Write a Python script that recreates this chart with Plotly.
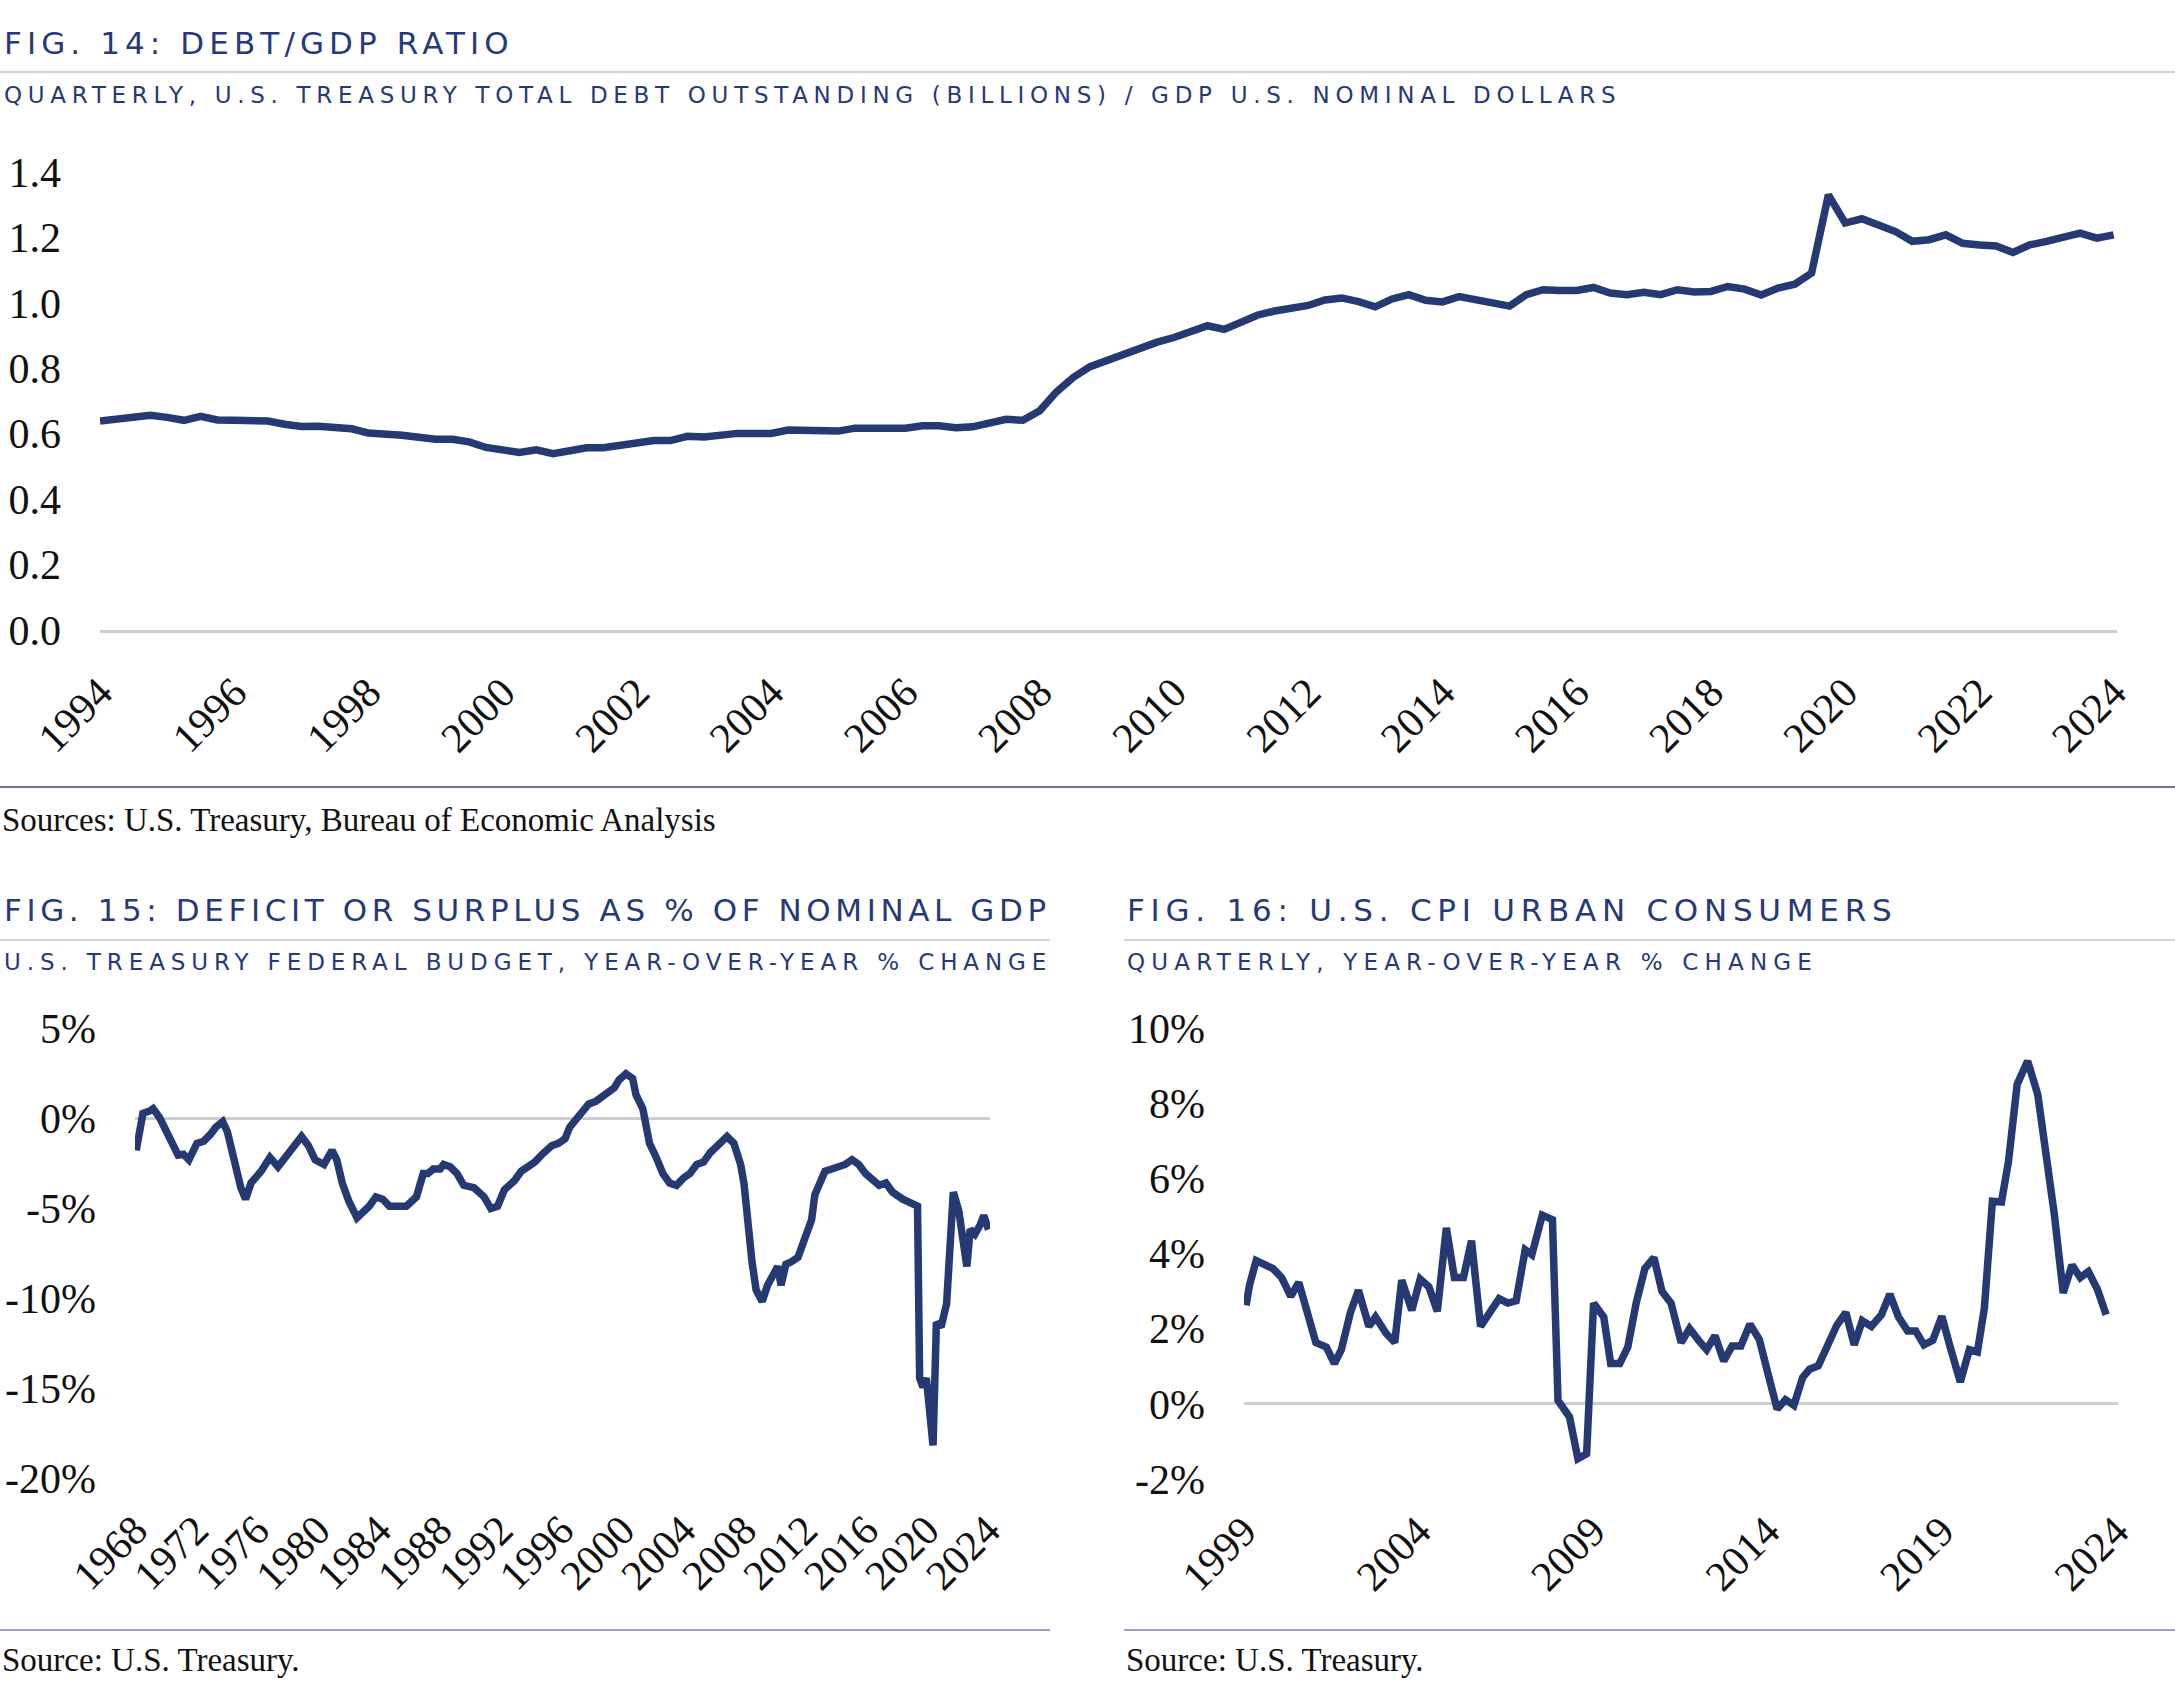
import plotly.graph_objects as go

W, H = 2175, 1685

# ---------------- DATA ----------------
# Fig 14: Debt/GDP ratio, quarterly 1994Q1 .. 2024Q1
debt_gdp = [
    0.639, 0.645, 0.646, 0.656, 0.650, 0.641, 0.653, 0.642,
    0.641, 0.641, 0.639, 0.629, 0.622, 0.623, 0.621, 0.615,
    0.602, 0.601, 0.595, 0.589, 0.583, 0.583, 0.575, 0.558,
    0.552, 0.543, 0.551, 0.539, 0.548, 0.557, 0.557, 0.563,
    0.570, 0.579, 0.579, 0.592, 0.590, 0.596, 0.601, 0.601,
    0.601, 0.611, 0.611, 0.611, 0.608, 0.617, 0.619, 0.617,
    0.617, 0.624, 0.624, 0.618, 0.621, 0.630, 0.644, 0.641,
    0.670, 0.728, 0.772, 0.805, 0.825, 0.845, 0.866, 0.880,
    0.894, 0.912, 0.930, 0.919, 0.942, 0.963, 0.975, 0.985,
    0.992, 1.009, 1.015, 1.004, 0.988, 1.012, 1.025, 1.008,
    1.003, 1.019, 1.010, 0.997, 0.990, 1.025, 1.040, 1.038,
    1.038, 1.047, 1.030, 1.025, 1.032, 1.025, 1.040, 1.033,
    1.035, 1.050, 1.042, 1.024, 1.045, 1.057, 1.091, 1.330,
    1.244, 1.257, 1.239, 1.218, 1.188, 1.193, 1.208, 1.182,
    1.177, 1.174, 1.154, 1.177, 1.188, 1.203, 1.213, 1.198,
    1.208,
]
debt_years = [1994 + i * 0.25 for i in range(len(debt_gdp))]
debt_ytick_vals = [0.0, 0.2, 0.4, 0.6, 0.8, 1.0, 1.2, 1.4]
debt_ytick_text = ["0.0", "0.2", "0.4", "0.6", "0.8", "1.0", "1.2", "1.4"]
debt_xtick_years = list(range(1994, 2025, 2))

# Fig 15: Deficit or surplus as % of nominal GDP
deficit_years = [
    1968.08, 1968.52, 1968.97, 1969.19, 1969.63, 1970.08, 1970.52, 1970.83,
    1971.18, 1971.54, 1972.07, 1972.51, 1972.96, 1973.31, 1973.76, 1974.07,
    1974.51, 1974.95, 1975.26, 1975.62, 1976.28, 1976.86, 1977.39, 1977.84,
    1978.50, 1978.94, 1979.39, 1979.83, 1980.41, 1980.94, 1981.25, 1981.61,
    1982.05, 1982.58, 1983.38, 1983.82, 1984.27, 1984.71, 1985.82, 1986.48,
    1986.93, 1987.24, 1987.59, 1988.04, 1988.26, 1988.70, 1989.15, 1989.59,
    1990.26, 1990.61, 1990.92, 1991.37, 1991.81, 1992.26, 1992.92, 1993.36,
    1993.80, 1994.25, 1994.69, 1995.36, 1995.80, 1996.24, 1996.55, 1996.91,
    1997.44, 1997.80, 1998.24, 1998.68, 1999.13, 1999.48, 1999.79, 2000.24,
    2000.68, 2000.90, 2001.35, 2001.57, 2001.79, 2002.23, 2002.67, 2003.11,
    2003.56, 2004.00, 2004.44, 2004.89, 2005.33, 2005.77, 2006.22, 2006.66,
    2006.88, 2007.33, 2007.77, 2007.99, 2008.21, 2008.52, 2008.79, 2009.19,
    2009.54, 2009.98, 2010.21, 2010.43, 2010.74, 2011.10, 2011.54, 2011.98,
    2012.43, 2012.65, 2012.96, 2013.31, 2013.76, 2014.20, 2014.64, 2015.09,
    2015.53, 2015.98, 2016.42, 2016.87, 2017.31, 2017.75, 2018.42, 2018.86,
    2019.39, 2019.53, 2019.75, 2019.97, 2020.41, 2020.63, 2020.94, 2021.30,
    2021.74, 2022.10, 2022.41, 2022.63, 2022.85, 2023.16, 2023.51, 2023.74,
    2024.05,
]
deficit_pct = [
    -1.80, 0.26, 0.39, 0.52, 0.00, -0.77, -1.41, -2.06,
    -2.01, -2.32, -1.41, -1.29, -0.90, -0.51, -0.20, -0.77,
    -2.32, -3.87, -4.51, -3.61, -2.96, -2.19, -2.71, -2.19,
    -1.54, -1.03, -1.54, -2.32, -2.58, -1.80, -2.32, -3.61,
    -4.64, -5.54, -4.90, -4.38, -4.51, -4.90, -4.90, -4.38,
    -3.09, -3.09, -2.83, -2.83, -2.58, -2.71, -3.09, -3.74,
    -3.87, -4.12, -4.38, -5.03, -4.90, -3.99, -3.48, -2.96,
    -2.71, -2.45, -2.06, -1.54, -1.41, -1.16, -0.51, -0.13,
    0.39, 0.78, 0.91, 1.17, 1.42, 1.68, 2.12, 2.46,
    2.20, 1.29, 0.52, -0.51, -1.41, -2.19, -3.09, -3.61,
    -3.74, -3.35, -3.09, -2.58, -2.45, -1.93, -1.54, -1.29,
    -1.03, -1.41, -2.58, -3.61, -5.67, -7.99, -9.54, -10.19,
    -9.29, -8.51, -8.25, -9.29, -8.13, -7.99, -7.74, -6.71,
    -5.67, -4.26, -3.61, -2.96, -2.83, -2.71, -2.58, -2.32,
    -2.58, -3.09, -3.35, -3.74, -3.61, -4.12, -4.51, -4.64,
    -4.90, -14.45, -14.96, -14.45, -18.19, -11.35, -11.61, -10.32,
    -4.12, -5.16, -6.71, -8.25, -6.19, -6.45, -5.93, -5.42,
    -6.20,
]
deficit_ytick_vals = [-20, -15, -10, -5, 0, 5]
deficit_ytick_text = ["-20%", "-15%", "-10%", "-5%", "0%", "5%"]
deficit_xtick_years = list(range(1968, 2025, 4))

# Fig 16: U.S. CPI urban consumers, y/y %
cpi_years = [
    1999.06, 1999.16, 1999.35, 1999.59, 1999.83, 2000.08, 2000.34, 2000.57,
    2000.77, 2001.06, 2001.36, 2001.59, 2001.79, 2002.05, 2002.28, 2002.58,
    2002.77, 2003.07, 2003.32, 2003.52, 2003.81, 2004.05, 2004.30, 2004.54,
    2004.80, 2005.03, 2005.29, 2005.52, 2005.78, 2006.07, 2006.31, 2006.56,
    2006.80, 2007.06, 2007.25, 2007.55, 2007.84, 2008.00, 2008.33, 2008.57,
    2008.82, 2009.02, 2009.31, 2009.51, 2009.77, 2010.00, 2010.24, 2010.49,
    2010.75, 2010.98, 2011.24, 2011.53, 2011.77, 2012.03, 2012.26, 2012.50,
    2012.75, 2012.99, 2013.24, 2013.50, 2013.77, 2014.03, 2014.28, 2014.52,
    2014.76, 2015.01, 2015.21, 2015.46, 2015.74, 2015.99, 2016.25, 2016.49,
    2016.72, 2016.98, 2017.27, 2017.51, 2017.76, 2018.02, 2018.25, 2018.49,
    2018.74, 2019.00, 2019.24, 2019.53, 2019.79, 2020.02, 2020.22, 2020.45,
    2020.71, 2020.91, 2021.16, 2021.46, 2021.75, 2021.99, 2022.22, 2022.48,
    2022.73, 2022.97, 2023.20, 2023.46, 2023.71,
]
cpi_pct = [
    2.62, 3.17, 3.81, 3.73, 3.60, 3.36, 2.86, 3.23,
    2.62, 1.63, 1.51, 1.07, 1.44, 2.43, 3.02, 2.06,
    2.31, 1.88, 1.63, 3.29, 2.49, 3.32, 3.11, 2.46,
    4.68, 3.36, 3.36, 4.34, 2.06, 2.49, 2.80, 2.68,
    2.74, 4.10, 3.97, 5.02, 4.90, 0.09, -0.35, -1.46,
    -1.33, 2.68, 2.31, 1.07, 1.07, 1.51, 2.68, 3.60,
    3.89, 2.99, 2.68, 1.63, 2.00, 1.69, 1.44, 1.81,
    1.14, 1.54, 1.54, 2.12, 1.71, 0.76, -0.14, 0.11,
    -0.04, 0.70, 0.92, 1.01, 1.57, 2.09, 2.43, 1.57,
    2.21, 2.06, 2.37, 2.92, 2.31, 1.94, 1.94, 1.57,
    1.69, 2.33, 1.51, 0.58, 1.44, 1.38, 2.55, 5.39,
    5.37, 6.44, 8.50, 9.12, 8.23, 6.75, 5.08, 2.95,
    3.69, 3.36, 3.52, 3.05, 2.37,
]
cpi_ytick_vals = [-2, 0, 2, 4, 6, 8, 10]
cpi_ytick_text = ["-2%", "0%", "2%", "4%", "6%", "8%", "10%"]
cpi_xtick_years = list(range(1999, 2025, 5))

# ---------------- STYLE ----------------
NAVY = "#26397a"
LINE = "#253972"
GRAY = "#cdcdcd"
SERIF = "Liberation Serif, Times New Roman, serif"
HEAD = "DejaVu Sans, Verdana, sans-serif"
TICK_SIZE = 42
LINE_W = 7.5


def px_x(p):
    return p / W


def px_y(p):
    return 1 - p / H


fig = go.Figure()
fig.add_trace(go.Scatter(x=debt_years, y=debt_gdp, mode="lines",
                         line=dict(color=LINE, width=LINE_W), xaxis="x", yaxis="y"))
fig.add_trace(go.Scatter(x=deficit_years, y=deficit_pct, mode="lines",
                         line=dict(color=LINE, width=LINE_W), xaxis="x2", yaxis="y2"))
fig.add_trace(go.Scatter(x=cpi_years, y=cpi_pct, mode="lines",
                         line=dict(color=LINE, width=LINE_W), xaxis="x3", yaxis="y3"))

tickfont = dict(family=SERIF, size=TICK_SIZE, color="#111111")

xcommon = dict(showgrid=False, zeroline=False, ticks="", tickangle=-45,
               tickfont=tickfont, ticklabelstandoff=18, automargin=False)
ycommon = dict(showgrid=False, ticks="", tickfont=tickfont, ticklabelstandoff=38,
               automargin=False)

fig.update_layout(
    width=W, height=H,
    autosize=False,
    margin=dict(l=0, r=0, t=0, b=0, pad=0, autoexpand=False),
    paper_bgcolor="white", plot_bgcolor="white",
    showlegend=False,
    xaxis=dict(domain=[px_x(100), px_x(2117)], range=[1994, 2024.05],
               tickvals=debt_xtick_years, ticktext=[str(v) for v in debt_xtick_years],
               showline=True, linecolor=GRAY, linewidth=3, anchor="y", **xcommon),
    yaxis=dict(domain=[px_y(630), px_y(172)], range=[0, 1.4],
               tickvals=debt_ytick_vals, ticktext=debt_ytick_text,
               zeroline=False, anchor="x", **ycommon),
    xaxis2=dict(domain=[px_x(135), px_x(990)], range=[1968, 2024.15],
                tickvals=deficit_xtick_years, ticktext=[str(v) for v in deficit_xtick_years],
                showline=False, anchor="y2", **xcommon),
    yaxis2=dict(domain=[px_y(1478), px_y(1028)], range=[-20, 5],
                tickvals=deficit_ytick_vals, ticktext=deficit_ytick_text,
                zeroline=True, zerolinecolor=GRAY, zerolinewidth=3, anchor="x2", **ycommon),
    xaxis3=dict(domain=[px_x(1244), px_x(2118)], range=[1999, 2024.05],
                tickvals=cpi_xtick_years, ticktext=[str(v) for v in cpi_xtick_years],
                showline=False, anchor="y3", **xcommon),
    yaxis3=dict(domain=[px_y(1479), px_y(1028)], range=[-2, 10],
                tickvals=cpi_ytick_vals, ticktext=cpi_ytick_text,
                zeroline=True, zerolinecolor=GRAY, zerolinewidth=3, anchor="x3", **ycommon),
)


def spaced(text, ls):
    return f'<span style="letter-spacing:{ls}px">{text}</span>'


annotations = []


def add_text(text, x, y, size, family, color, ls=0):
    annotations.append(dict(
        text=spaced(text, ls) if ls else text,
        x=px_x(x), y=px_y(y), xref="paper", yref="paper",
        xanchor="left", yanchor="middle", showarrow=False,
        font=dict(family=family, size=size, color=color),
    ))


add_text("FIG. 14: DEBT/GDP RATIO", 2, 43, 31, HEAD, NAVY, 5.1)
add_text("QUARTERLY, U.S. TREASURY TOTAL DEBT OUTSTANDING (BILLIONS) / GDP U.S. NOMINAL DOLLARS",
         2, 95, 23, HEAD, NAVY, 5.7)
add_text("Sources: U.S. Treasury, Bureau of Economic Analysis", 0, 820, 33, SERIF, "#111111")

add_text("FIG. 15: DEFICIT OR SURPLUS AS % OF NOMINAL GDP", 2, 910, 31, HEAD, NAVY, 4.6)
add_text("U.S. TREASURY FEDERAL BUDGET, YEAR-OVER-YEAR % CHANGE", 2, 962, 23, HEAD, NAVY, 5.9)
add_text("Source: U.S. Treasury.", 0, 1660, 33, SERIF, "#111111")

add_text("FIG. 16: U.S. CPI URBAN CONSUMERS", 1125, 910, 31, HEAD, NAVY, 5.75)
add_text("QUARTERLY, YEAR-OVER-YEAR % CHANGE", 1125, 962, 23, HEAD, NAVY, 6.2)
add_text("Source: U.S. Treasury.", 1124, 1660, 33, SERIF, "#111111")

fig.update_layout(annotations=annotations)

shapes = []


def hrule(x0, x1, y, color, width):
    shapes.append(dict(type="line", xref="paper", yref="paper",
                       x0=px_x(x0), x1=px_x(x1), y0=px_y(y), y1=px_y(y),
                       line=dict(color=color, width=width)))


hrule(0, W, 72, "#d3d3d3", 2)
hrule(0, W, 787, "#3d4a78", 1.5)
hrule(0, 1050, 940, "#d3d3d3", 2)
hrule(1124, W, 940, "#d3d3d3", 2)
hrule(0, 1050, 1630, "#98a1c0", 2)
hrule(1124, W, 1630, "#98a1c0", 2)
fig.update_layout(shapes=shapes)

fig.write_html("out.html", config={"displayModeBar": False},
               post_script="document.body.style.margin='0';")
